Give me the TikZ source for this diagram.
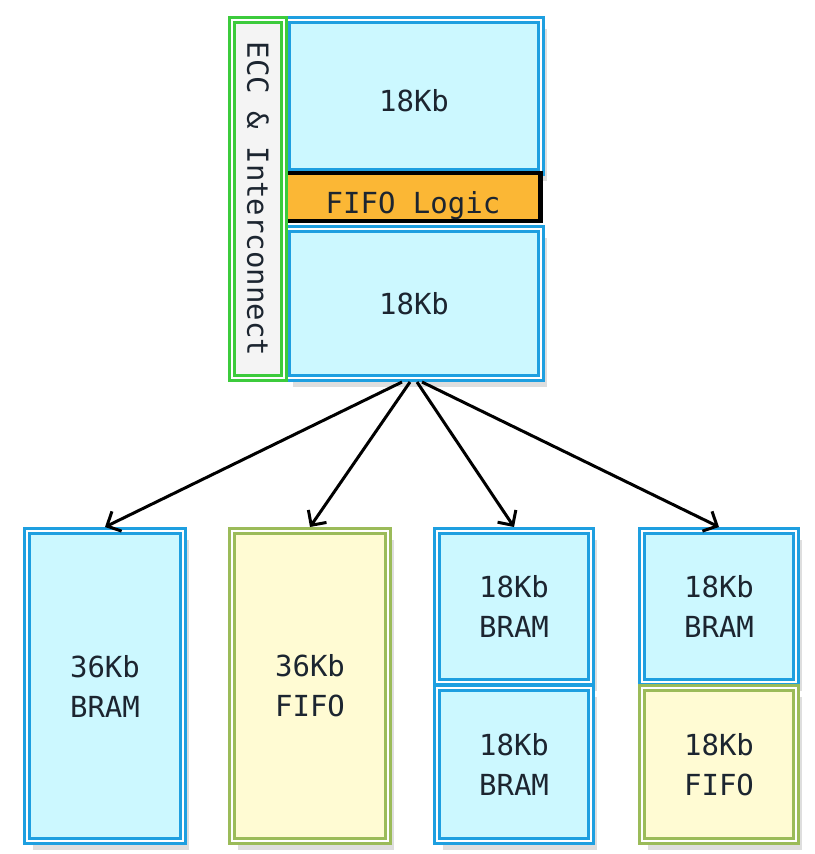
\documentclass[tikz,border=0pt]{standalone}
\usepackage{fontspec}
\setmonofont{DejaVu Sans Mono}
\usetikzlibrary{arrows.meta,shadows}

\definecolor{bramfill}{HTML}{CCF8FF}
\definecolor{bramline}{HTML}{1E9FE0}
\definecolor{fifofill}{HTML}{FFFBD3}
\definecolor{fifoline}{HTML}{9BBB59}
\definecolor{eccline}{HTML}{3CCB3C}
\definecolor{eccfill}{HTML}{F4F4F4}
\definecolor{logicfill}{HTML}{FBB735}
\definecolor{inktext}{HTML}{1C2530}

\tikzset{
  cell/.style={rectangle, inner sep=0pt, outer sep=4pt, align=center, text=inktext,
    font=\ttfamily\fontsize{29}{40}\selectfont, line width=3pt, double=white, double distance=2pt},
  castshadow/.style={drop shadow={fill=black!13, opacity=1, shadow xshift=6pt, shadow yshift=-9pt}},
  bramcell/.style={cell, castshadow, draw=bramline, fill=bramfill},
  fifocell/.style={cell, castshadow, draw=fifoline, fill=fifofill},
  ecccell/.style={cell, draw=eccline, fill=eccfill},
  splitarrow/.style={-{Straight Barb[length=11pt,width=22pt]}, line width=3pt, black},
}

\begin{document}
\begin{tikzpicture}[x=1pt,y=-1pt]

\fill[white] (0,0) rectangle (814,854);
\useasboundingbox (0,0) rectangle (814,854);

% 36Kb block: two 18Kb halves with the FIFO logic between them
\node (topA) at (414,96) [bramcell, minimum width=254pt, minimum height=152pt, text height=30pt, text depth=0pt] {18Kb};
\node (fifologic) at (413,197) [rectangle, draw=black, line width=4.5pt, fill=logicfill, text=inktext,
  font=\ttfamily\fontsize{29}{40}\selectfont, minimum width=255pt, minimum height=48pt,
  text height=32pt, text depth=0pt] {FIFO Logic};
\node (topB) at (414,303.5) [bramcell, minimum width=254pt, minimum height=149pt] {18Kb};
\node (ecc) at (258,199) [ecccell, rotate=-90, minimum width=358pt, minimum height=52pt] {ECC \& Interconnect};

% ways to use it
\node (bram36) at (105,686) [bramcell, minimum width=156pt, minimum height=310pt] {36Kb\\BRAM};
\node (fifo36) at (310,686) [fifocell, minimum width=156pt, minimum height=310pt] {36Kb\\FIFO};

\node (bramA) at (514,606.5) [bramcell, minimum width=154pt, minimum height=151pt] {18Kb\\BRAM};
\node (bramB) at (514,764.5) [bramcell, minimum width=154pt, minimum height=153pt] {18Kb\\BRAM};

\node (bramC) at (719,606.5) [bramcell, minimum width=154pt, minimum height=151pt] {18Kb\\BRAM};
\node (fifo18) at (719,764.5) [fifocell, minimum width=154pt, minimum height=153pt] {18Kb\\FIFO};

\draw [splitarrow] ([xshift=-12pt]topB.south) -- (bram36.north);
\draw [splitarrow] ([xshift=-4pt]topB.south) -- (fifo36.north);
\draw [splitarrow] ([xshift=3pt]topB.south) -- (bramA.north);
\draw [splitarrow] ([xshift=8pt]topB.south) -- (bramC.north);

\end{tikzpicture}
\end{document}
